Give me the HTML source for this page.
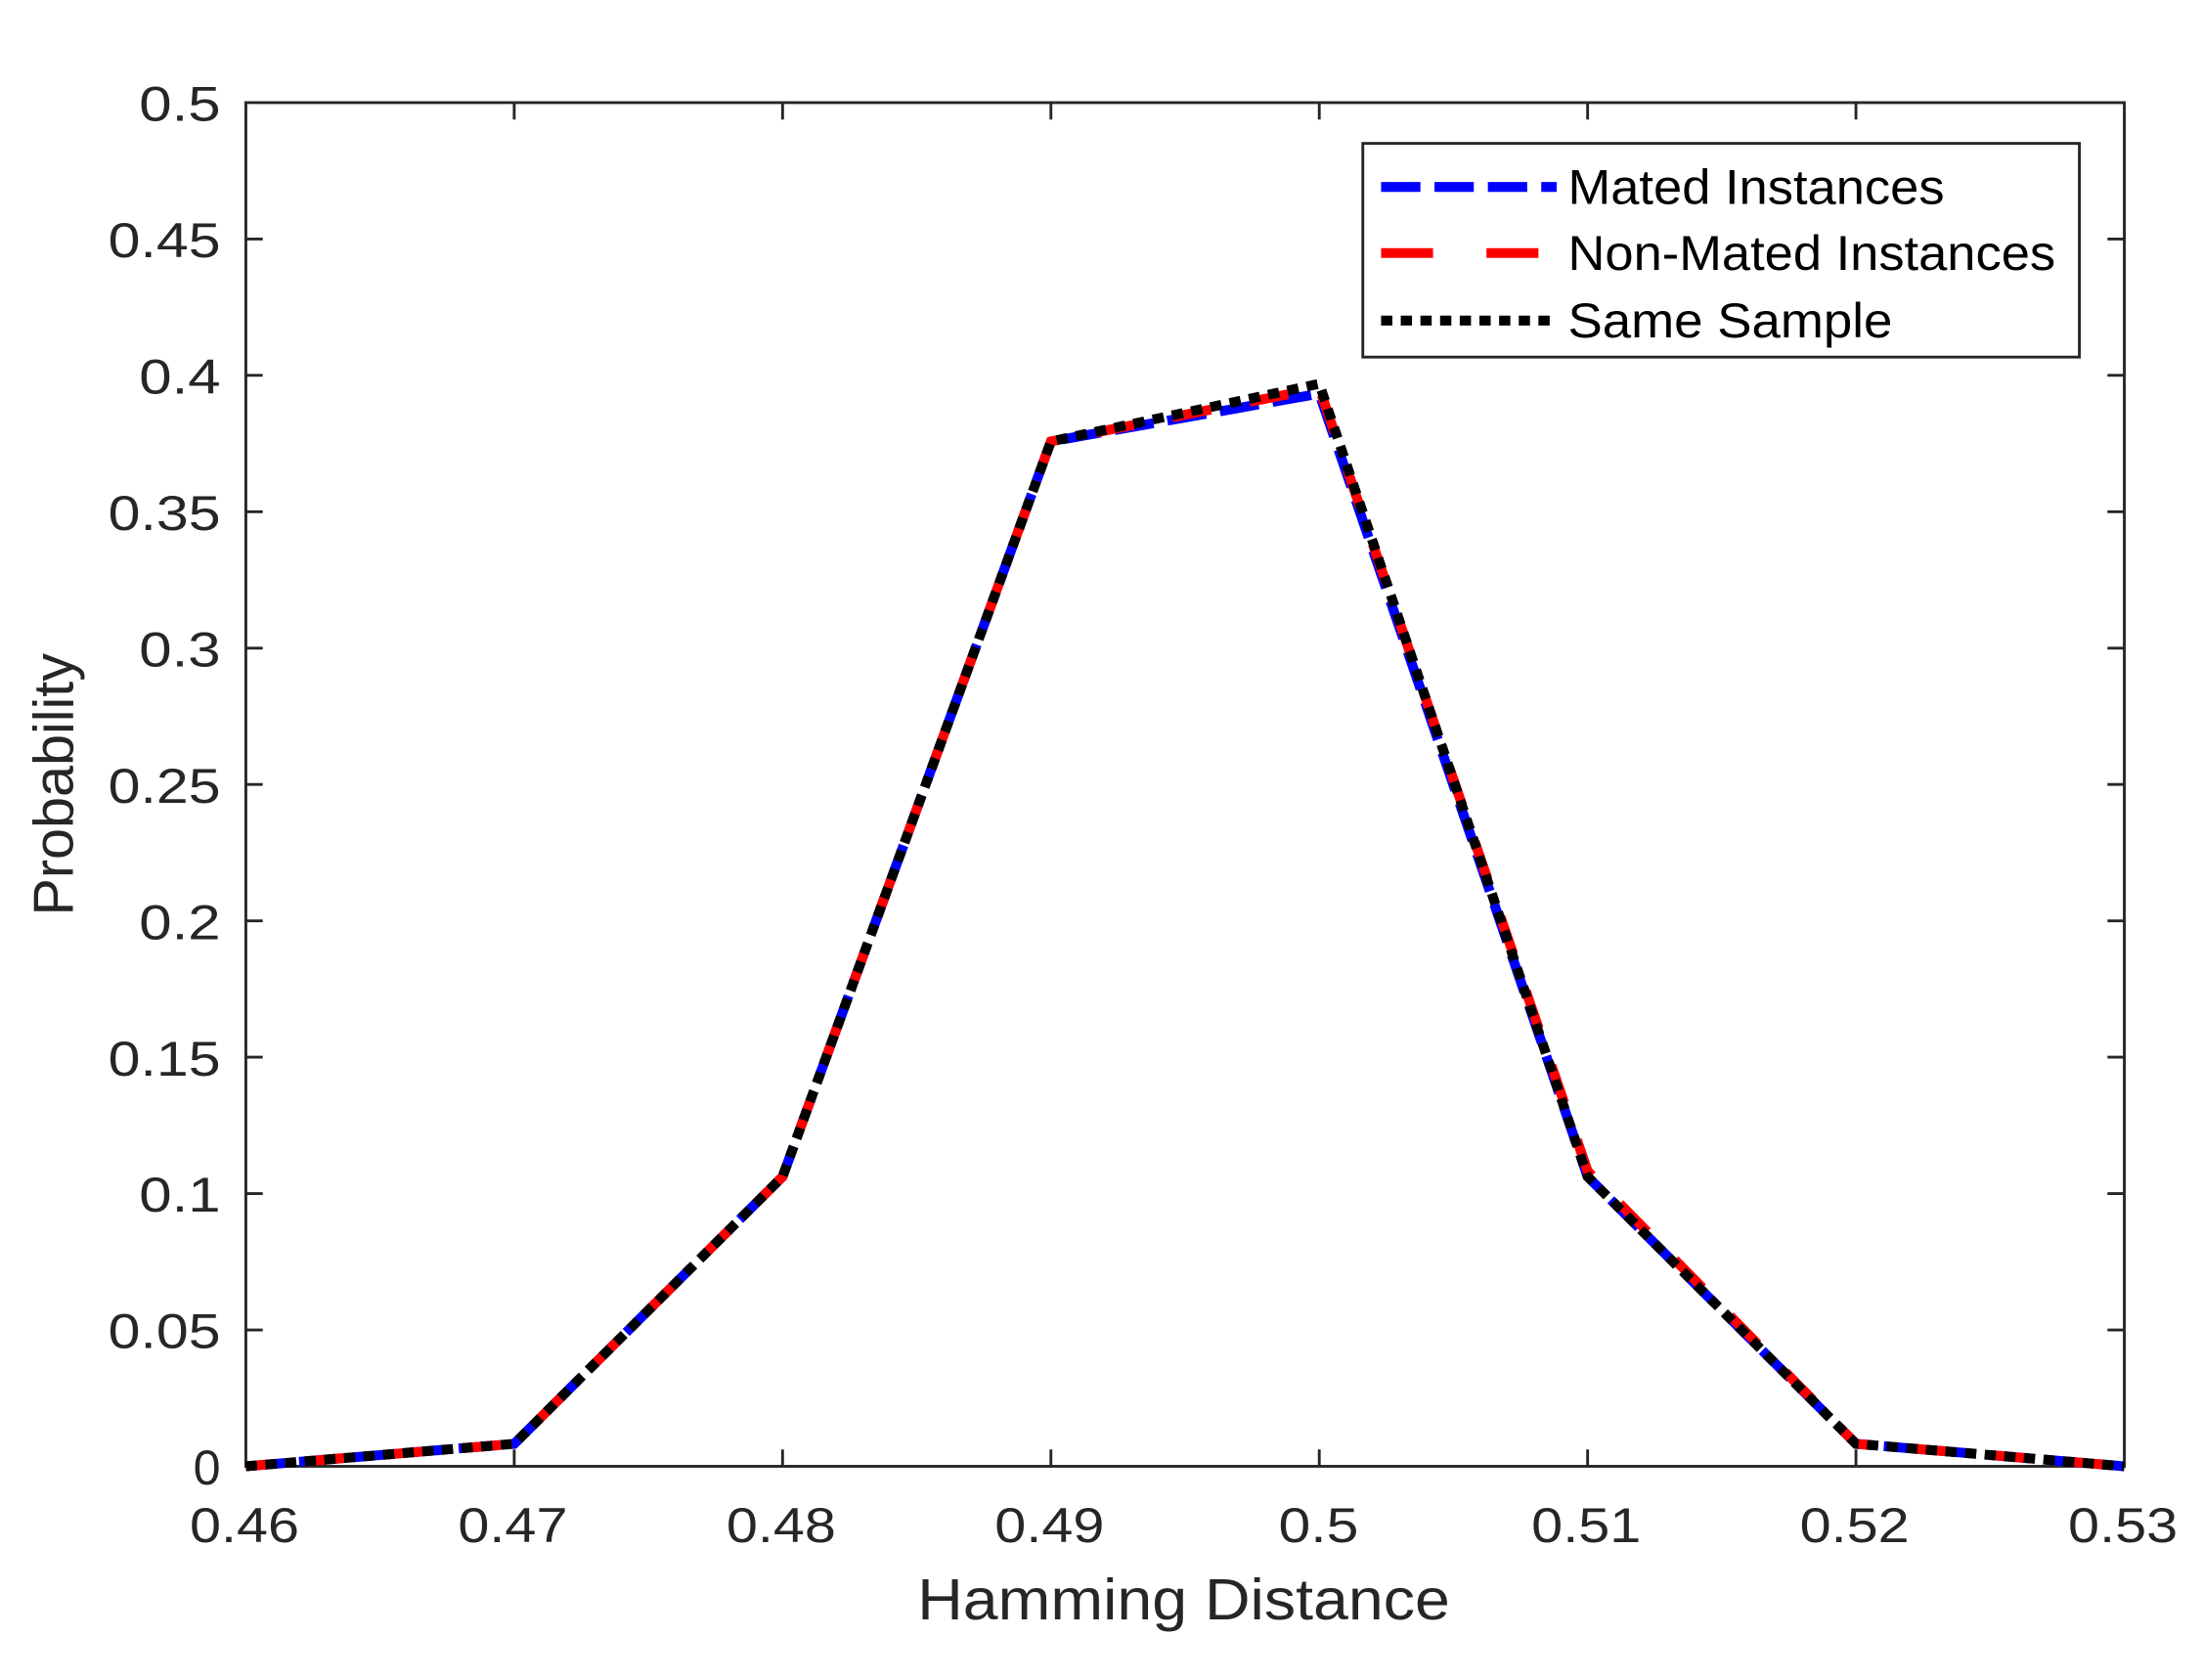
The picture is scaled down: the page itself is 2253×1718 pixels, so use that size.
<!DOCTYPE html>
<html><head><style>html,body{margin:0;padding:0;background:#fff}svg{display:block}</style></head>
<body>
<svg width="2253" height="1718" viewBox="0 0 1568 1195" preserveAspectRatio="none" xmlns="http://www.w3.org/2000/svg" font-family="Liberation Sans, sans-serif" fill="#262626">
<rect width="1568" height="1195" fill="#fff"/>
<g stroke="#262626" stroke-width="2" fill="none">
<rect x="175" y="73" width="1337" height="970"/>
<path d="M366 1043v-12M557 1043v-12M748 1043v-12M939 1043v-12M1130 1043v-12M1321 1043v-12
M366 73v12M557 73v12M748 73v12M939 73v12M1130 73v12M1321 73v12
M175 170h12M175 267h12M175 364h12M175 461h12M175 558h12M175 655h12M175 752h12M175 849h12M175 946h12
M1512 170h-12M1512 267h-12M1512 364h-12M1512 461h-12M1512 558h-12M1512 655h-12M1512 752h-12M1512 849h-12M1512 946h-12"/>
</g>
<g font-size="35" text-anchor="end">
<text x="157" y="86" textLength="58" lengthAdjust="spacingAndGlyphs">0.5</text>
<text x="157" y="183" textLength="80" lengthAdjust="spacingAndGlyphs">0.45</text>
<text x="157" y="280" textLength="58" lengthAdjust="spacingAndGlyphs">0.4</text>
<text x="157" y="377" textLength="80" lengthAdjust="spacingAndGlyphs">0.35</text>
<text x="157" y="474" textLength="58" lengthAdjust="spacingAndGlyphs">0.3</text>
<text x="157" y="571" textLength="80" lengthAdjust="spacingAndGlyphs">0.25</text>
<text x="157" y="668" textLength="58" lengthAdjust="spacingAndGlyphs">0.2</text>
<text x="157" y="765" textLength="80" lengthAdjust="spacingAndGlyphs">0.15</text>
<text x="157" y="862" textLength="58" lengthAdjust="spacingAndGlyphs">0.1</text>
<text x="157" y="959" textLength="80" lengthAdjust="spacingAndGlyphs">0.05</text>
<text x="157" y="1056">0</text>
</g>
<g font-size="35">
<text x="135" y="1097" textLength="78" lengthAdjust="spacingAndGlyphs">0.46</text>
<text x="326" y="1097" textLength="78" lengthAdjust="spacingAndGlyphs">0.47</text>
<text x="517" y="1097" textLength="78" lengthAdjust="spacingAndGlyphs">0.48</text>
<text x="708" y="1097" textLength="78" lengthAdjust="spacingAndGlyphs">0.49</text>
<text x="910" y="1097" textLength="57" lengthAdjust="spacingAndGlyphs">0.5</text>
<text x="1090" y="1097" textLength="78" lengthAdjust="spacingAndGlyphs">0.51</text>
<text x="1281" y="1097" textLength="78" lengthAdjust="spacingAndGlyphs">0.52</text>
<text x="1472" y="1097" textLength="78" lengthAdjust="spacingAndGlyphs">0.53</text>
</g>
<text x="653" y="1152" font-size="41" textLength="379" lengthAdjust="spacingAndGlyphs">Hamming Distance</text>
<text transform="translate(52 558) rotate(-90)" font-size="40" text-anchor="middle">Probability</text>
<g fill="none" stroke-width="7">
<polyline stroke="#0000ff" stroke-dasharray="28 10" points="175,1043 366,1027 557,837 748,314 939,280 1130,837 1321,1027 1512,1043"/>
<polyline stroke="#ff0000" stroke-dasharray="28 28" stroke-dashoffset="14" points="175,1043 366,1027 557,837 748,314 939,276 1130,833 1321,1027 1512,1043"/>
<polyline stroke="#000" stroke-dasharray="8 6" points="175,1043 366,1027 557,837 748,314 939,273 1130,837 1321,1027 1512,1043"/>
</g>
<rect x="970" y="102" width="510" height="152" fill="#fff" stroke="#262626" stroke-width="2"/>
<g stroke-width="7">
<path d="M983 133h125" stroke="#0000ff" stroke-dasharray="28 10"/>
<path d="M983 180h125" stroke="#ff0000" stroke-dasharray="37 38"/>
<path d="M983 228h125" stroke="#000" stroke-dasharray="8 6"/>
</g>
<g font-size="35" fill="#000">
<text x="1116" y="145" textLength="268" lengthAdjust="spacingAndGlyphs">Mated Instances</text>
<text x="1116" y="192" textLength="347" lengthAdjust="spacingAndGlyphs">Non-Mated Instances</text>
<text x="1116" y="240" textLength="231" lengthAdjust="spacingAndGlyphs">Same Sample</text>
</g>
</svg>
</body></html>
